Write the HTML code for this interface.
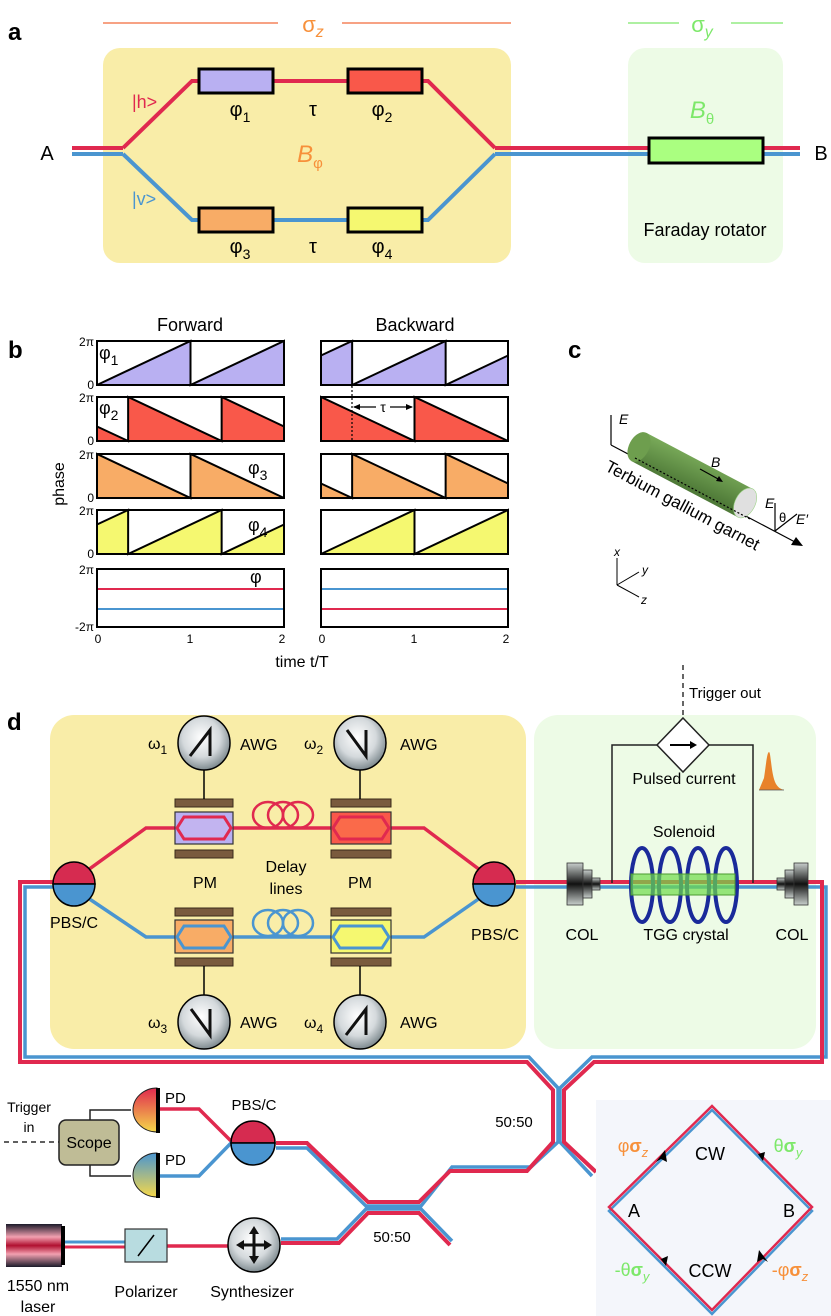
<!DOCTYPE html>
<html><head><meta charset="utf-8"><style>
html,body{margin:0;padding:0;background:#fff;}
svg{display:block;font-family:"Liberation Sans",sans-serif;}
</style></head><body>
<svg width="831" height="1316" viewBox="0 0 831 1316" xmlns="http://www.w3.org/2000/svg">
<defs>
<radialGradient id="awg" cx="0.45" cy="0.4" r="0.6"><stop offset="0" stop-color="#ffffff"/><stop offset="0.6" stop-color="#d4d9dc"/><stop offset="1" stop-color="#7f8b90"/></radialGradient>
<linearGradient id="col" x1="0" y1="0" x2="0" y2="1"><stop offset="0" stop-color="#c8cfcc"/><stop offset="0.5" stop-color="#111"/><stop offset="1" stop-color="#c8cfcc"/></linearGradient>
<linearGradient id="pd1" x1="0" y1="0" x2="0" y2="1"><stop offset="0" stop-color="#e0294f"/><stop offset="1" stop-color="#f5d84a"/></linearGradient>
<linearGradient id="pd2" x1="0" y1="0" x2="0" y2="1"><stop offset="0" stop-color="#4a95d0"/><stop offset="1" stop-color="#f5d84a"/></linearGradient>
<linearGradient id="laser" x1="0" y1="0" x2="0" y2="1"><stop offset="0" stop-color="#1b1b2a"/><stop offset="0.3" stop-color="#f2a0b0"/><stop offset="0.5" stop-color="#b01030"/><stop offset="0.7" stop-color="#f2a0b0"/><stop offset="1" stop-color="#1b1b2a"/></linearGradient>
<linearGradient id="cyl" x1="0" y1="0" x2="0.3" y2="1"><stop offset="0" stop-color="#7aab5a"/><stop offset="1" stop-color="#4f7a38"/></linearGradient>
</defs>

<!-- ================= PANEL A ================= -->
<text x="8" y="40" font-size="24" font-weight="bold">a</text>
<line x1="103" y1="23" x2="278" y2="23" stroke="#f26b3a" stroke-width="1.2"/>
<line x1="342" y1="23" x2="511" y2="23" stroke="#f26b3a" stroke-width="1.2"/>
<text x="313" y="32" font-size="22" fill="#f7903a" text-anchor="middle">σ<tspan font-size="16" dy="5" font-style="italic">z</tspan></text>
<line x1="628" y1="23" x2="679" y2="23" stroke="#7de86a" stroke-width="1.2"/>
<line x1="731" y1="23" x2="783" y2="23" stroke="#7de86a" stroke-width="1.2"/>
<text x="702" y="32" font-size="22" fill="#7de86a" text-anchor="middle">σ<tspan font-size="16" dy="5" font-style="italic">y</tspan></text>
<rect x="103" y="48" width="408" height="215" rx="17" fill="#f9eda8"/>
<rect x="628" y="48" width="155" height="215" rx="17" fill="#edfbe6"/>
<!-- main line -->
<line x1="72" y1="148" x2="123" y2="148" stroke="#e0294f" stroke-width="4"/>
<line x1="72" y1="154" x2="123" y2="154" stroke="#4a95d0" stroke-width="4"/>
<line x1="495" y1="148" x2="800" y2="148" stroke="#e0294f" stroke-width="4"/>
<line x1="495" y1="154" x2="800" y2="154" stroke="#4a95d0" stroke-width="4"/>
<polyline points="123,148 192,81 428,81 495,148" fill="none" stroke="#e0294f" stroke-width="4"/>
<polyline points="123,154 192,220 428,220 495,154" fill="none" stroke="#4a95d0" stroke-width="4"/>
<rect x="199" y="69" width="74" height="24" fill="#b9b0f2" stroke="#000" stroke-width="3"/>
<rect x="348" y="69" width="74" height="24" fill="#f9584a" stroke="#000" stroke-width="3"/>
<rect x="199" y="208" width="74" height="24" fill="#f8ac66" stroke="#000" stroke-width="3"/>
<rect x="348" y="208" width="74" height="24" fill="#f5f870" stroke="#000" stroke-width="3"/>
<rect x="649" y="138" width="114" height="25" fill="#aaff80" stroke="#000" stroke-width="3"/>
<text x="47" y="160" font-size="20" text-anchor="middle">A</text>
<text x="821" y="160" font-size="20" text-anchor="middle">B</text>
<text x="132" y="108" font-size="18" fill="#e0294f">|h&gt;</text>
<text x="132" y="205" font-size="18" fill="#4a95d0">|v&gt;</text>
<text x="240" y="116" font-size="20" text-anchor="middle">φ<tspan font-size="14" dy="6">1</tspan></text>
<text x="313" y="116" font-size="20" text-anchor="middle">τ</text>
<text x="382" y="116" font-size="20" text-anchor="middle">φ<tspan font-size="14" dy="6">2</tspan></text>
<text x="240" y="253" font-size="20" text-anchor="middle">φ<tspan font-size="14" dy="6">3</tspan></text>
<text x="313" y="253" font-size="20" text-anchor="middle">τ</text>
<text x="382" y="253" font-size="20" text-anchor="middle">φ<tspan font-size="14" dy="6">4</tspan></text>
<text x="310" y="162" font-size="24" fill="#f7903a" text-anchor="middle" font-style="italic">B<tspan font-size="15" dy="6" font-style="normal">φ</tspan></text>
<text x="702" y="118" font-size="24" fill="#7de86a" text-anchor="middle" font-style="italic">B<tspan font-size="15" dy="6" font-style="normal">θ</tspan></text>
<text x="705" y="236" font-size="18" text-anchor="middle">Faraday rotator</text>

<!-- ================= PANEL B ================= -->
<text x="8" y="358" font-size="24" font-weight="bold">b</text>
<text x="190" y="331" font-size="18" text-anchor="middle">Forward</text>
<text x="415" y="331" font-size="18" text-anchor="middle">Backward</text>
<text transform="translate(64,484) rotate(-90)" font-size="16" text-anchor="middle">phase</text>
<text x="302" y="667" font-size="16" text-anchor="middle">time t/T</text>
<g font-size="12" text-anchor="end">
<text x="94" y="346">2π</text><text x="94" y="389">0</text>
<text x="94" y="402">2π</text><text x="94" y="445">0</text>
<text x="94" y="459">2π</text><text x="94" y="502">0</text>
<text x="94" y="515">2π</text><text x="94" y="558">0</text>
<text x="94" y="574">2π</text><text x="94" y="631">-2π</text>
</g>
<g font-size="12" text-anchor="middle">
<text x="98" y="643">0</text><text x="190" y="643">1</text><text x="282" y="643">2</text>
<text x="322" y="643">0</text><text x="414" y="643">1</text><text x="506" y="643">2</text>
</g>
<!-- frames & fills; unit coords t:0..2, v:0..1 -->
<g stroke="#000" stroke-width="2" stroke-linejoin="miter">
<!-- Forward -->
<g transform="translate(97,385) scale(93.5,-44)"><rect x="0" y="0" width="2" height="1" fill="#fff" vector-effect="non-scaling-stroke"/><polygon points="0,0 1,1 1,0 2,1 2,0" fill="#b9b0f2" vector-effect="non-scaling-stroke"/></g>
<g transform="translate(97,441) scale(93.5,-44)"><rect x="0" y="0" width="2" height="1" fill="#fff" vector-effect="non-scaling-stroke"/><polygon points="0,0.33 0.333,0 0.333,1 1.333,0 1.333,1 2,0.33 2,0 0,0" fill="#f9584a" vector-effect="non-scaling-stroke"/></g>
<g transform="translate(97,498) scale(93.5,-44)"><rect x="0" y="0" width="2" height="1" fill="#fff" vector-effect="non-scaling-stroke"/><polygon points="0,0 0,1 1,0 1,1 2,0" fill="#f8ac66" vector-effect="non-scaling-stroke"/></g>
<g transform="translate(97,554) scale(93.5,-44)"><rect x="0" y="0" width="2" height="1" fill="#fff" vector-effect="non-scaling-stroke"/><polygon points="0,0.67 0.333,1 0.333,0 1.333,1 1.333,0 2,0.67 2,0 0,0" fill="#f5f870" vector-effect="non-scaling-stroke"/></g>
<!-- Backward -->
<g transform="translate(321,385) scale(93.5,-44)"><rect x="0" y="0" width="2" height="1" fill="#fff" vector-effect="non-scaling-stroke"/><polygon points="0,0.67 0.333,1 0.333,0 1.333,1 1.333,0 2,0.67 2,0 0,0" fill="#b9b0f2" vector-effect="non-scaling-stroke"/></g>
<g transform="translate(321,441) scale(93.5,-44)"><rect x="0" y="0" width="2" height="1" fill="#fff" vector-effect="non-scaling-stroke"/><polygon points="0,0 0,1 1,0 1,1 2,0" fill="#f9584a" vector-effect="non-scaling-stroke"/></g>
<g transform="translate(321,498) scale(93.5,-44)"><rect x="0" y="0" width="2" height="1" fill="#fff" vector-effect="non-scaling-stroke"/><polygon points="0,0.33 0.333,0 0.333,1 1.333,0 1.333,1 2,0.33 2,0 0,0" fill="#f8ac66" vector-effect="non-scaling-stroke"/></g>
<g transform="translate(321,554) scale(93.5,-44)"><rect x="0" y="0" width="2" height="1" fill="#fff" vector-effect="non-scaling-stroke"/><polygon points="0,0 1,1 1,0 2,1 2,0" fill="#f5f870" vector-effect="non-scaling-stroke"/></g>
<rect x="97" y="569" width="187" height="58" fill="#fff"/>
<rect x="321" y="569" width="187" height="58" fill="#fff"/>
</g>
<line x1="98" y1="589" x2="283" y2="589" stroke="#e0294f" stroke-width="2"/>
<line x1="98" y1="609" x2="283" y2="609" stroke="#4a95d0" stroke-width="2"/>
<line x1="322" y1="589" x2="507" y2="589" stroke="#4a95d0" stroke-width="2"/>
<line x1="322" y1="609" x2="507" y2="609" stroke="#e0294f" stroke-width="2"/>
<g font-size="18">
<text x="99" y="359">φ<tspan font-size="14" dy="6">1</tspan></text>
<text x="99" y="414">φ<tspan font-size="14" dy="6">2</tspan></text>
<text x="248" y="474">φ<tspan font-size="14" dy="6">3</tspan></text>
<text x="248" y="531">φ<tspan font-size="14" dy="6">4</tspan></text>
<text x="250" y="583">φ</text>
</g>
<line x1="352" y1="386" x2="352" y2="441" stroke="#000" stroke-width="1.2" stroke-dasharray="2,2"/>
<line x1="354" y1="407" x2="412" y2="407" stroke="#000" stroke-width="1.2"/>
<polygon points="353,407 360,404 360,410" fill="#000"/>
<polygon points="413,407 406,404 406,410" fill="#000"/>
<rect x="376" y="400" width="14" height="12" fill="#fff"/>
<text x="383" y="412" font-size="14" text-anchor="middle">τ</text>

<!-- ================= PANEL C ================= -->
<text x="568" y="358" font-size="24" font-weight="bold">c</text>
<polyline points="611,415 611,445" fill="none" stroke="#000" stroke-width="1.2"/>
<line x1="611" y1="445" x2="795" y2="542" stroke="#000" stroke-width="1.2"/>
<polygon points="803,546 791,545 796,537" fill="#000"/>
<text x="619" y="424" font-size="14" font-style="italic">E</text>
<g transform="translate(639,447) rotate(27.8)">
<rect x="0" y="-16" width="120" height="32" fill="url(#cyl)"/>
<ellipse cx="0" cy="0" rx="10" ry="16" fill="#6e9e4e"/>
<ellipse cx="120" cy="0" rx="10" ry="16" fill="#e0e0e0" stroke="#9fd48a" stroke-width="0.6"/>
</g>
<line x1="635" y1="458" x2="750" y2="519" stroke="#000" stroke-width="1.2" stroke-dasharray="2,2"/>
<text x="711" y="467" font-size="14" font-style="italic">B</text>
<line x1="700" y1="469" x2="720" y2="480" stroke="#000" stroke-width="1.2"/>
<polygon points="723,482 716,481 719,476" fill="#000"/>
<text transform="translate(604,470) rotate(28)" font-size="17">Terbium gallium garnet</text>
<line x1="775" y1="503" x2="775" y2="531" stroke="#000" stroke-width="1.2"/>
<line x1="775" y1="531" x2="797" y2="514" stroke="#000" stroke-width="1.2"/>
<text x="765" y="508" font-size="14" font-style="italic">E</text>
<text x="779" y="522" font-size="13">θ</text>
<text x="796" y="524" font-size="14" font-style="italic">E′</text>
<g stroke="#000" stroke-width="1" fill="none">
<line x1="617" y1="585" x2="617" y2="558"/><line x1="617" y1="585" x2="639" y2="572"/><line x1="617" y1="585" x2="639" y2="597"/>
</g>
<g font-size="12" font-style="italic"><text x="614" y="556">x</text><text x="642" y="574">y</text><text x="641" y="604">z</text></g>

<!-- ================= PANEL D ================= -->
<text x="7" y="730" font-size="24" font-weight="bold">d</text>
<rect x="50" y="715" width="476" height="334" rx="24" fill="#f9eda8"/>
<rect x="534" y="715" width="282" height="334" rx="24" fill="#edfbe6"/>
<line x1="683" y1="665" x2="683" y2="720" stroke="#000" stroke-width="1.2" stroke-dasharray="5,4"/>
<text x="689" y="698" font-size="15">Trigger out</text>

<!-- outer loop -->
<path d="M53,887 H25 V1057 H529 L558,1088 V1142 L531,1167 H452 L421,1206 H366 L307,1148 H276" fill="none" stroke="#4a95d0" stroke-width="3.5"/>
<path d="M53,882 H20 V1062 H527 L553,1090 V1142 L527,1171 H450 L419,1202 H368 L307,1143 H276" fill="none" stroke="#e0294f" stroke-width="4"/>
<path d="M516,887 H826 V1057 H592 L560,1088 V1142 L592,1176" fill="none" stroke="#4a95d0" stroke-width="3.5"/>
<path d="M516,882 H822 V1062 H594 L564,1090 V1142 L596,1172" fill="none" stroke="#e0294f" stroke-width="4"/>
<path d="M281,1239 H337 L366,1209 H421 L452,1241" fill="none" stroke="#4a95d0" stroke-width="3.5"/>
<path d="M281,1243 H339 L368,1213 H419 L450,1245" fill="none" stroke="#e0294f" stroke-width="4"/>

<!-- interferometer arms -->
<polyline points="88,870 146,828 424,828 480,870" fill="none" stroke="#e0294f" stroke-width="3.5"/>
<polyline points="88,898 146,937 424,937 480,898" fill="none" stroke="#4a95d0" stroke-width="3.5"/>
<!-- delay loops -->
<g fill="none" stroke="#e0294f" stroke-width="2.5"><ellipse cx="268" cy="815" rx="15" ry="13"/><ellipse cx="283" cy="815" rx="15" ry="13"/><ellipse cx="298" cy="815" rx="15" ry="13"/></g>
<g fill="none" stroke="#4a95d0" stroke-width="2.5"><ellipse cx="268" cy="923" rx="15" ry="13"/><ellipse cx="283" cy="923" rx="15" ry="13"/><ellipse cx="298" cy="923" rx="15" ry="13"/></g>

<!-- PMs -->
<g stroke="#3a2a1a" stroke-width="1">
<rect x="175" y="799" width="58" height="8" fill="#7a5b3e"/><rect x="175" y="850" width="58" height="8" fill="#7a5b3e"/>
<rect x="331" y="799" width="60" height="8" fill="#7a5b3e"/><rect x="331" y="850" width="60" height="8" fill="#7a5b3e"/>
<rect x="175" y="908" width="58" height="8" fill="#7a5b3e"/><rect x="175" y="958" width="58" height="8" fill="#7a5b3e"/>
<rect x="331" y="908" width="60" height="8" fill="#7a5b3e"/><rect x="331" y="958" width="60" height="8" fill="#7a5b3e"/>
</g>
<rect x="175" y="812" width="58" height="32" fill="#b9b0f2" stroke="#333" stroke-width="1.2"/>
<polygon points="184,817 224,817 231,828 224,839 184,839 177,828" fill="#c2b4f0" stroke="#e0294f" stroke-width="3"/>
<rect x="331" y="812" width="60" height="32" fill="#f9584a" stroke="#333" stroke-width="1.2"/>
<polygon points="340,817 382,817 389,828 382,839 340,839 333,828" fill="#fa6a4a" stroke="#e0294f" stroke-width="3"/>
<rect x="175" y="920" width="58" height="33" fill="#f8ac66" stroke="#333" stroke-width="1.2"/>
<polygon points="184,926 224,926 231,937 224,948 184,948 177,937" fill="#f8ac66" stroke="#4a95d0" stroke-width="3"/>
<rect x="331" y="920" width="60" height="33" fill="#f5f870" stroke="#333" stroke-width="1.2"/>
<polygon points="340,926 382,926 389,937 382,948 340,948 333,937" fill="#f5f870" stroke="#4a95d0" stroke-width="3"/>

<!-- AWG -->
<g stroke="#000" stroke-width="1.5">
<line x1="204" y1="770" x2="204" y2="799"/><line x1="360" y1="770" x2="360" y2="799"/>
<line x1="204" y1="966" x2="204" y2="995"/><line x1="360" y1="966" x2="360" y2="995"/>
</g>
<g stroke="#000" stroke-width="1.5" fill="url(#awg)">
<ellipse cx="204" cy="743" rx="26" ry="27"/><ellipse cx="360" cy="743" rx="26" ry="27"/>
<ellipse cx="204" cy="1022" rx="26" ry="27"/><ellipse cx="360" cy="1022" rx="26" ry="27"/>
</g>
<g stroke="#111" stroke-width="3" fill="none">
<polyline points="190,756 210,730 210,756"/>
<polyline points="347,730 366,756 366,730"/>
<polyline points="191,1009 210,1035 210,1009"/>
<polyline points="346,1035 366,1009 366,1035"/>
</g>
<g font-size="16">
<text x="148" y="749">ω<tspan font-size="12" dy="5">1</tspan></text>
<text x="304" y="749">ω<tspan font-size="12" dy="5">2</tspan></text>
<text x="148" y="1028">ω<tspan font-size="12" dy="5">3</tspan></text>
<text x="304" y="1028">ω<tspan font-size="12" dy="5">4</tspan></text>
<text x="240" y="750">AWG</text><text x="400" y="750">AWG</text>
<text x="240" y="1028">AWG</text><text x="400" y="1028">AWG</text>
<text x="205" y="888" text-anchor="middle">PM</text><text x="360" y="888" text-anchor="middle">PM</text>
<text x="286" y="872" text-anchor="middle">Delay</text><text x="286" y="894" text-anchor="middle">lines</text>
<text x="74" y="928" text-anchor="middle">PBS/C</text><text x="495" y="940" text-anchor="middle">PBS/C</text>
<text x="582" y="940" text-anchor="middle">COL</text><text x="792" y="940" text-anchor="middle">COL</text>
<text x="686" y="940" text-anchor="middle">TGG crystal</text>
<text x="684" y="784" text-anchor="middle">Pulsed current</text>
<text x="684" y="837" text-anchor="middle">Solenoid</text>
</g>
<!-- PBS top -->
<g stroke="#000" stroke-width="1.5">
<path d="M53,884 A21,22 0 0 1 95,884 Z" fill="#d62b50"/><path d="M53,884 A21,22 0 0 0 95,884 Z" fill="#4a95d0"/>
<path d="M473,884 A21,22 0 0 1 515,884 Z" fill="#d62b50"/><path d="M473,884 A21,22 0 0 0 515,884 Z" fill="#4a95d0"/>
</g>

<!-- pulsed current circuit -->
<polyline points="657,745 612,745 612,883" fill="none" stroke="#222" stroke-width="1.5"/>
<polyline points="709,745 753,745 753,883" fill="none" stroke="#222" stroke-width="1.5"/>
<polygon points="683,718 709,745 683,772 657,745" fill="#fff" stroke="#222" stroke-width="1.5"/>
<line x1="670" y1="745" x2="693" y2="745" stroke="#000" stroke-width="2"/><polygon points="697,745 690,741 690,749" fill="#000"/>
<path d="M759,790 L764,778 C766,765 767,752 769,752 C771,752 771,775 776,784 C779,789 782,789 784,790 Z" fill="#e8822a"/>
<line x1="759" y1="790" x2="784" y2="790" stroke="#555" stroke-width="0.8"/>
<!-- solenoid -->
<g fill="none" stroke="#1a2a9a" stroke-width="4">
<ellipse cx="642" cy="885" rx="11" ry="37"/><ellipse cx="670" cy="885" rx="11" ry="37"/><ellipse cx="698" cy="885" rx="11" ry="37"/><ellipse cx="726" cy="885" rx="11" ry="37"/>
</g>
<rect x="631" y="874" width="104" height="21" fill="#6fdb4a" fill-opacity="0.7" stroke="#4a9a30" stroke-width="1"/>
<!-- COLs -->
<rect x="567" y="863" width="16" height="42" fill="url(#col)" stroke="#333" stroke-width="0.8"/>
<rect x="583" y="870" width="9" height="28" fill="url(#col)" stroke="#333" stroke-width="0.8"/>
<rect x="592" y="878" width="8" height="12" fill="url(#col)" stroke="#333" stroke-width="0.8"/>
<rect x="777" y="878" width="8" height="12" fill="url(#col)" stroke="#333" stroke-width="0.8"/>
<rect x="785" y="870" width="9" height="28" fill="url(#col)" stroke="#333" stroke-width="0.8"/>
<rect x="794" y="863" width="14" height="42" fill="url(#col)" stroke="#333" stroke-width="0.8"/>

<!-- bottom left detection -->
<polyline points="90,1120 90,1110 131,1110" fill="none" stroke="#222" stroke-width="1.5"/>
<polyline points="90,1165 90,1176 131,1176" fill="none" stroke="#222" stroke-width="1.5"/>
<line x1="4" y1="1142" x2="59" y2="1142" stroke="#000" stroke-width="1.2" stroke-dasharray="5,4"/>
<rect x="59" y="1120" width="60" height="45" rx="7" fill="#bfbc96" stroke="#222" stroke-width="1.5"/>
<text x="89" y="1148" font-size="16" text-anchor="middle">Scope</text>
<text x="29" y="1112" font-size="14" text-anchor="middle">Trigger</text>
<text x="29" y="1132" font-size="14" text-anchor="middle">in</text>
<polyline points="160,1109 199,1109 232,1142" fill="none" stroke="#e0294f" stroke-width="3.5"/>
<polyline points="160,1176 199,1176 232,1142" fill="none" stroke="#4a95d0" stroke-width="3.5"/>
<path d="M157,1088 A24,22 0 0 0 157,1132 Z" fill="url(#pd1)" stroke="#222" stroke-width="1"/>
<rect x="156" y="1088" width="4" height="45" fill="#000"/>
<path d="M157,1153 A24,22 0 0 0 157,1197 Z" fill="url(#pd2)" stroke="#222" stroke-width="1"/>
<rect x="156" y="1153" width="4" height="45" fill="#000"/>
<text x="165" y="1103" font-size="15">PD</text>
<text x="165" y="1165" font-size="15">PD</text>
<g stroke="#000" stroke-width="1.5">
<path d="M231,1143 A22,22 0 0 1 275,1143 Z" fill="#d62b50"/><path d="M231,1143 A22,22 0 0 0 275,1143 Z" fill="#4a95d0"/>
</g>
<text x="254" y="1110" font-size="15" text-anchor="middle">PBS/C</text>
<text x="514" y="1127" font-size="15" text-anchor="middle">50:50</text>
<text x="392" y="1242" font-size="15" text-anchor="middle">50:50</text>

<!-- laser line -->
<line x1="65" y1="1242" x2="125" y2="1242" stroke="#4a95d0" stroke-width="3"/>
<line x1="65" y1="1247" x2="125" y2="1247" stroke="#e0294f" stroke-width="3"/>
<line x1="167" y1="1246" x2="228" y2="1246" stroke="#e0294f" stroke-width="3.5"/>
<rect x="6" y="1224" width="56" height="43" fill="url(#laser)"/>
<rect x="61" y="1226" width="4" height="39" fill="#000"/>
<rect x="125" y="1229" width="42" height="33" fill="#b8dce0" stroke="#333" stroke-width="1.2"/>
<line x1="138" y1="1256" x2="154" y2="1235" stroke="#000" stroke-width="1.5"/>
<ellipse cx="254" cy="1245" rx="26" ry="27" fill="url(#awg)" stroke="#000" stroke-width="1.5"/>
<g stroke="#111" stroke-width="3"><line x1="240" y1="1245" x2="268" y2="1245"/><line x1="254" y1="1231" x2="254" y2="1259"/></g>
<g fill="#111"><polygon points="254,1226 249,1234 259,1234"/><polygon points="254,1264 249,1256 259,1256"/><polygon points="236,1245 244,1240 244,1250"/><polygon points="272,1245 264,1240 264,1250"/></g>
<text x="38" y="1291" font-size="16" text-anchor="middle">1550 nm</text>
<text x="38" y="1312" font-size="16" text-anchor="middle">laser</text>
<text x="146" y="1297" font-size="16" text-anchor="middle">Polarizer</text>
<text x="252" y="1297" font-size="16" text-anchor="middle">Synthesizer</text>

<!-- diamond panel -->
<rect x="596" y="1100" width="235" height="216" fill="#f4f6fb"/>
<polygon points="712,1110 609,1211 712,1314 812,1211" fill="none" stroke="#4a95d0" stroke-width="2.5"/>
<polygon points="712,1106 609,1207 712,1310 812,1207" fill="none" stroke="#e0294f" stroke-width="2.5"/>
<g fill="#000">
<polygon points="665,1150 656,1162 661,1159 667,1162"/>
<polygon points="763,1161 754,1149 758,1154 765,1152"/>
<polygon points="666,1266 657,1254 661,1259 668,1256"/>
<polygon points="759,1250 768,1262 763,1259 757,1262"/>
</g>
<g font-size="18" text-anchor="middle">
<text x="710" y="1160">CW</text><text x="710" y="1277">CCW</text>
<text x="634" y="1217">A</text><text x="789" y="1217">B</text>
</g>
<text x="633" y="1152" font-size="18" fill="#f7903a" text-anchor="middle">φ<tspan font-weight="bold">σ</tspan><tspan font-size="13" dy="5" font-style="italic">z</tspan></text>
<text x="788" y="1152" font-size="18" fill="#7de86a" text-anchor="middle">θ<tspan font-weight="bold">σ</tspan><tspan font-size="13" dy="5" font-style="italic">y</tspan></text>
<text x="632" y="1276" font-size="18" fill="#7de86a" text-anchor="middle">-θ<tspan font-weight="bold">σ</tspan><tspan font-size="13" dy="5" font-style="italic">y</tspan></text>
<text x="790" y="1276" font-size="18" fill="#f7903a" text-anchor="middle">-φ<tspan font-weight="bold">σ</tspan><tspan font-size="13" dy="5" font-style="italic">z</tspan></text>
</svg>
</body></html>
